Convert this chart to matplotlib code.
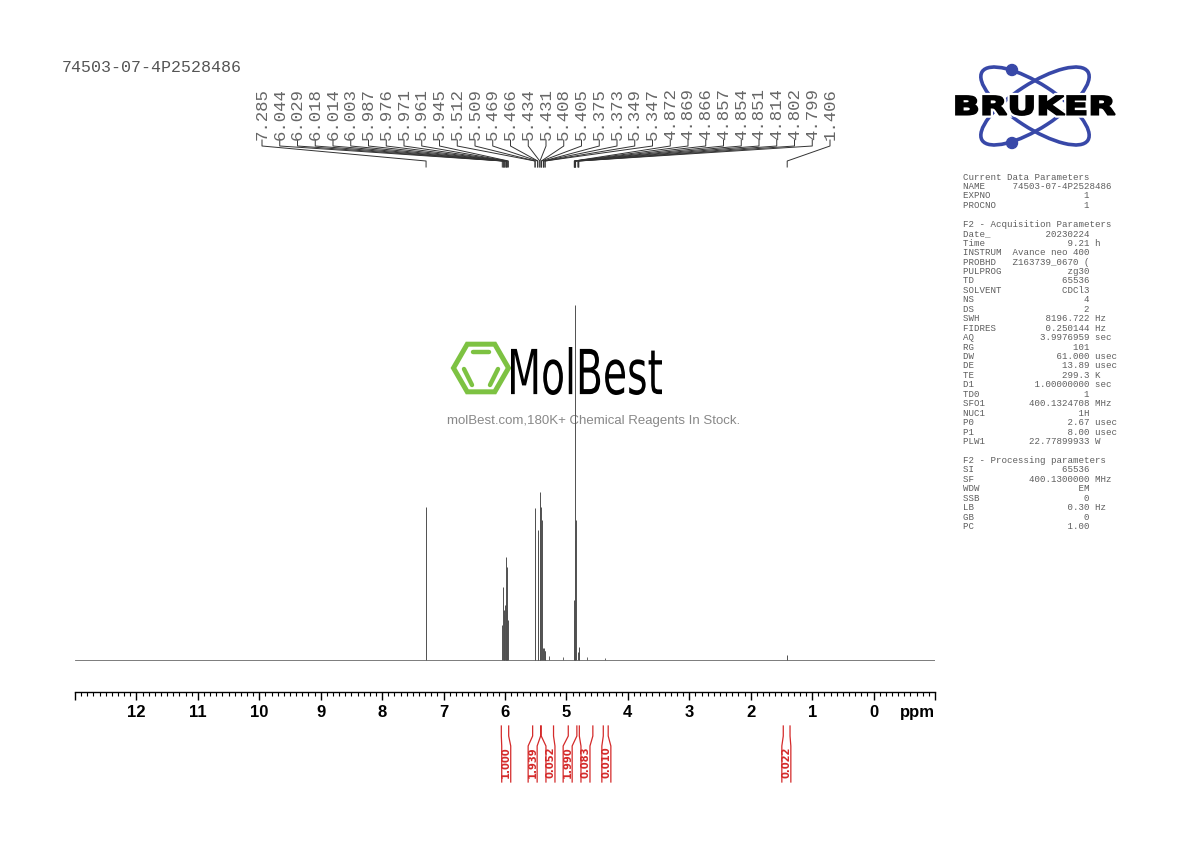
import numpy as np
import matplotlib
matplotlib.use("Agg")
import matplotlib.pyplot as plt
import matplotlib.patheffects as pe
from matplotlib.transforms import blended_transform_factory, Affine2D
from matplotlib.patches import Ellipse, Circle, RegularPolygon, PathPatch
from matplotlib.textpath import TextPath
from matplotlib.font_manager import FontProperties
from matplotlib.ticker import MultipleLocator

# ---- data ----
sample_name = "74503-07-4P2528486"

peak_ppm = [7.285,
            6.044, 6.029, 6.018, 6.014, 6.003, 5.987, 5.976, 5.971, 5.961, 5.945,
            5.512, 5.509, 5.469, 5.466, 5.434, 5.431, 5.408, 5.405, 5.375, 5.373,
            5.349, 5.347,
            4.872, 4.869, 4.866, 4.857, 4.854, 4.851, 4.814, 4.802, 4.799,
            1.406]
peak_height = [153,
               35, 73, 45, 50, 55, 103, 60, 93, 50, 40,
               152, 140, 130, 120, 168, 160, 153, 140, 12, 12,
               9, 9,
               40, 60, 45, 120, 355, 140, 8, 13, 12,
               5]

# small unlabelled bumps
minor_ppm = [5.28, 5.05, 4.67, 4.37]
minor_height = [4, 3, 3, 2]

int_labels = ["1.000", "1.939", "0.052", "1.990", "0.083", "0.010", "0.022"]
int_start = [6.06, 5.55, 5.41, 4.97, 4.79, 4.40, 1.47]
int_end = [5.94, 5.42, 5.21, 4.83, 4.57, 4.32, 1.36]
int_label_ppm = [5.98, 5.55, 5.26, 4.98, 4.69, 4.35, 1.42]

major_ticks = list(range(-1, 14))
tick_labels = [str(t) if 0 <= t <= 12 else "" for t in major_ticks]

acq_names = ["Date_", "Time", "INSTRUM", "PROBHD", "PULPROG", "TD", "SOLVENT",
             "NS", "DS", "SWH", "FIDRES", "AQ", "RG", "DW", "DE", "TE", "D1",
             "TD0", "SFO1", "NUC1", "P0", "P1", "PLW1"]
acq_values = ["20230224", "9.21", "Avance neo 400", "Z163739_0670 (", "zg30",
              "65536", "CDCl3", "4", "2", "8196.722", "0.250144", "3.9976959",
              "101", "61.000", "13.89", "299.3", "1.00000000", "1",
              "400.1324708", "1H", "2.67", "8.00", "22.77899933"]
acq_units = ["", "h", "", "", "", "", "", "", "", "Hz", "Hz", "sec", "",
             "usec", "usec", "K", "sec", "", "MHz", "", "usec", "usec", "W"]

proc_names = ["SI", "SF", "WDW", "SSB", "LB", "GB", "PC"]
proc_values = ["65536", "400.1300000", "EM", "0", "0.30", "0", "1.00"]
proc_units = ["", "MHz", "", "", "Hz", "", ""]

W, H = 1190, 842
RED = "#d42a2a"
GREEN = "#7dc242"
BLUE = "#3848a8"
MONO = "Liberation Mono"

fig = plt.figure(figsize=(W / 100, H / 100), dpi=100)
fig.patch.set_facecolor("white")

# pixel-space layer for the decorations
deco = fig.add_axes([0, 0, 1, 1], zorder=0)
deco.set_xlim(0, W)
deco.set_ylim(H, 0)
deco.axis("off")

# spectrum axes: bottom spine at y=692 px, 1 data unit = 1 px vertically
AX_L, AX_R, AX_B, AX_T = 75, 935, 692, 300
ax = fig.add_axes([AX_L / W, 1 - AX_B / H, (AX_R - AX_L) / W, (AX_B - AX_T) / H],
                  zorder=2)
ax.patch.set_alpha(0)
ax.set_xlim(13, -1)
ax.set_ylim(-32, AX_B - AX_T - 32)


def ay(py):
    # pixel row -> axes fraction
    return (AX_B - py) / (AX_B - AX_T)


trans = blended_transform_factory(ax.transData, ax.transAxes)

# spectrum
ax.axhline(0, color="#666666", lw=0.6, zorder=2)
ax.vlines(peak_ppm, 0, peak_height, color="#505050", lw=0.7, zorder=3)
ax.vlines(minor_ppm, 0, minor_height, color="#666666", lw=0.7, zorder=3)

for s in ["left", "right", "top"]:
    ax.spines[s].set_visible(False)
ax.spines["bottom"].set_linewidth(1.0)
ax.set_yticks([])
ax.set_xticks(major_ticks, tick_labels)
ax.xaxis.set_minor_locator(MultipleLocator(0.1))
ax.tick_params(axis="x", which="major", direction="out", length=5.5, width=1.0,
               pad=4, labelsize=12)
ax.tick_params(axis="x", which="minor", direction="out", length=2.6, width=0.8)
for lab in ax.get_xticklabels():
    lab.set_fontweight("bold")
    lab.set_family("Liberation Sans")
ax.text(-0.72, ay(712), "ppm", transform=trans, ha="center", va="center",
        fontsize=12, fontweight="bold", family="Liberation Sans")

# peak labels with leader lines
n = len(peak_ppm)
f0, f1 = (262 - AX_L) / (AX_R - AX_L), (830 - AX_L) / (AX_R - AX_L)
label_x = np.linspace(13 - 14 * f0, 13 - 14 * f1, n)
for lx, p in zip(label_x, peak_ppm):
    ax.text(lx, ay(140), f"{p:.3f}", transform=trans, rotation=90,
            ha="center", va="bottom", fontsize=12.5, family=MONO,
            color="#666666", clip_on=False)
    ax.plot([lx, lx, p, p], [ay(140), ay(146), ay(161), ay(167)],
            transform=trans, color="#333333", lw=0.7, clip_on=False)

# integrals
half = 4.5 / 61.4
for lab, a, b, c in zip(int_labels, int_start, int_end, int_label_ppm):
    ax.plot([a, a, c + half, c + half], [ay(726), ay(736), ay(746), ay(782)],
            transform=trans, color=RED, lw=0.9, clip_on=False)
    ax.plot([b, b, c - half, c - half], [ay(726), ay(736), ay(746), ay(782)],
            transform=trans, color=RED, lw=0.9, clip_on=False)
    ax.text(c, ay(778), lab, transform=trans, rotation=90, ha="center",
            va="bottom", fontsize=7.2, fontweight="bold", color=RED,
            family="DejaVu Sans", clip_on=False)

# header and parameter block
fig.text(62 / W, 1 - 68 / H, sample_name, family=MONO, fontsize=12,
         color="#555555", va="center")

param_lines = ["Current Data Parameters",
               f"{'NAME':<9}{sample_name}",
               f"{'EXPNO':<9}{'1':>14}",
               f"{'PROCNO':<9}{'1':>14}",
               "",
               "F2 - Acquisition Parameters"]
param_lines += [f"{nm:<9}{v:>14} {u}" for nm, v, u in zip(acq_names, acq_values, acq_units)]
param_lines += ["", "F2 - Processing parameters"]
param_lines += [f"{nm:<9}{v:>14} {u}" for nm, v, u in zip(proc_names, proc_values, proc_units)]
for i, line in enumerate(param_lines):
    fig.text(963 / W, 1 - (177 + 9.45 * i) / H, line, family=MONO,
             fontsize=6.6, color="#5e5e5e", va="center")


def text_in_box(axd, s, box, prop, **kw):
    tp = TextPath((0, 0), s, size=10, prop=prop)
    ext = tp.get_extents()
    x0, y0, x1, y1 = box
    tr = (Affine2D().translate(-ext.x0, -ext.y0)
          .scale((x1 - x0) / ext.width, -(y1 - y0) / ext.height)
          .translate(x0, y1))
    patch = PathPatch(tr.transform_path(tp), **kw)
    axd.add_patch(patch)
    return patch


# Bruker logo
for ang in (33, -33):
    deco.add_patch(Ellipse((1035, 106), 126, 44, angle=ang, fill=False,
                           edgecolor=BLUE, lw=2.6))
deco.add_patch(Circle((1012, 70), 5.5, color=BLUE))
deco.add_patch(Circle((1012, 143), 5.5, color=BLUE))
p = text_in_box(deco, "BRUKER", (956, 96, 1115, 115),
                FontProperties(family="DejaVu Sans", weight="bold"),
                facecolor="black", edgecolor="none")
p.set_path_effects([pe.Stroke(linewidth=4.5, foreground="white"),
                    pe.Stroke(linewidth=1.3, foreground="black"), pe.Normal()])

# MolBest watermark
deco.add_patch(RegularPolygon((481, 368), 6, radius=27.5, orientation=np.pi / 6,
                              fill=False, edgecolor=GREEN, lw=3.6))
deco.plot([473, 489], [352, 352], color=GREEN, lw=3.2, solid_capstyle="round")
deco.plot([464, 472], [369, 385], color=GREEN, lw=3.2, solid_capstyle="round")
deco.plot([498, 490], [369, 385], color=GREEN, lw=3.2, solid_capstyle="round")
text_in_box(deco, "MolBest", (511, 347, 662, 395),
            FontProperties(family="DejaVu Sans"), facecolor="black",
            edgecolor="none")
deco.text(594, 421, "molBest.com,180K+ Chemical Reagents In Stock.",
          ha="center", va="center", fontsize=9.5, color="#888888",
          family="Liberation Sans")

fig.savefig("out.png", dpi=100)
